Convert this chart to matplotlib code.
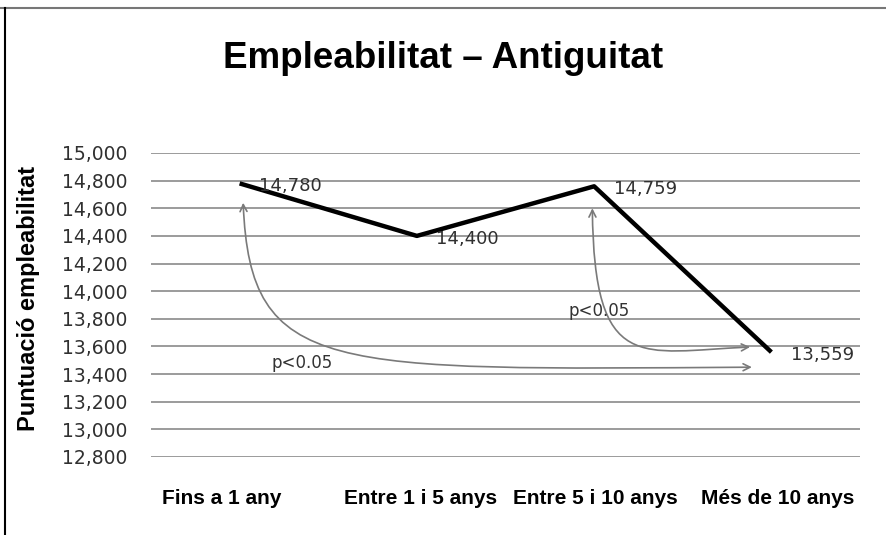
import matplotlib.pyplot as plt
from matplotlib.lines import Line2D
from matplotlib.patches import FancyArrowPatch
from matplotlib.path import Path
from matplotlib.transforms import ScaledTranslation

categories = ['Fins a 1 any', 'Entre 1 i 5 anys', 'Entre 5 i 10 anys', 'Més de 10 anys']
scores = [14780, 14400, 14759, 13559]
score_labels = ['14,780', '14,400', '14,759', '13,559']
yticks = list(range(12800, 15001, 200))

# significance arrows: cubic bezier control points (category index, score)
arrow1 = [(0.02, 14640), (0.06, 13390), (0.5, 13430), (2.89, 13450)]
arrow2 = [(1.99, 14600), (2.0, 13394), (2.26, 13560), (2.88, 13596)]
sig_text = [(0.35, 13480, 'p<0.05'), (2.03, 13857, 'p<0.05')]

fig = plt.figure(figsize=(8.87, 5.35), dpi=100)
ax = fig.add_axes([151 / 887, 1 - 457 / 535, 709 / 887, 304 / 535])

# grid lines
for v in yticks:
    ax.axhline(v, color='#8a8a8a', linewidth=1.2, zorder=1)

x = list(range(len(categories)))
ax.plot(x, scores, color='black', linewidth=3.2, zorder=4, solid_capstyle='butt')

for xi, s, lab in zip(x, scores, score_labels):
    ax.annotate(lab, (xi, s), xytext=(14, -2), textcoords='offset points',
                ha='left', va='center', fontsize=13, color='#303030',
                family='DejaVu Sans', zorder=5)

for pts in (arrow1, arrow2):
    p = Path(pts, [Path.MOVETO, Path.CURVE4, Path.CURVE4, Path.CURVE4])
    arr = FancyArrowPatch(path=p, arrowstyle='<->,head_length=5,head_width=2.5',
                          color='#7a7a7a', linewidth=1.2, zorder=3,
                          transform=ax.transData)
    ax.add_patch(arr)

for tx, ty, t in sig_text:
    ax.text(tx, ty, t, ha='center', va='center', fontsize=12, color='#333333',
            family='DejaVu Sans', zorder=5)

ax.set_xlim(-0.5, 3.5)
ax.set_ylim(12800, 15000)
ax.set_yticks(yticks)
ax.set_yticklabels(['{:,}'.format(v) for v in yticks], family='DejaVu Sans',
                   fontsize=13.5, color='#303030')
ax.set_xticks(x)
ax.set_xticklabels(categories, fontweight='bold', fontsize=15,
                   family='Liberation Sans')
ax.tick_params(axis='y', length=0, pad=17)
ax.tick_params(axis='x', length=0, pad=23)
# the original labels are not exactly centred on their categories
for lbl, dx in zip(ax.get_xticklabels(), [-18, 4, 1, 6]):
    lbl.set_transform(lbl.get_transform() + ScaledTranslation(dx / 100, 0, fig.dpi_scale_trans))
for sp in ax.spines.values():
    sp.set_visible(False)

ax.set_ylabel('Puntuació empleabilitat', fontsize=17, fontweight='bold',
              family='Liberation Sans')
ax.yaxis.set_label_coords(-0.156, 0.52)

fig.text(0.5, 1 - 58 / 535, 'Empleabilitat – Antiguitat', ha='center', va='center',
         fontsize=26.5, fontweight='bold', family='Liberation Sans')

# frame edges like the original screenshot
fig.add_artist(Line2D([0, 1], [1 - 7.5 / 535] * 2, color='#777777', linewidth=1.5,
                      transform=fig.transFigure))
fig.add_artist(Line2D([5.5 / 887] * 2, [0, 1 - 7.5 / 535], color='black', linewidth=1.5,
                      transform=fig.transFigure))

fig.savefig('out.png', dpi=100)
